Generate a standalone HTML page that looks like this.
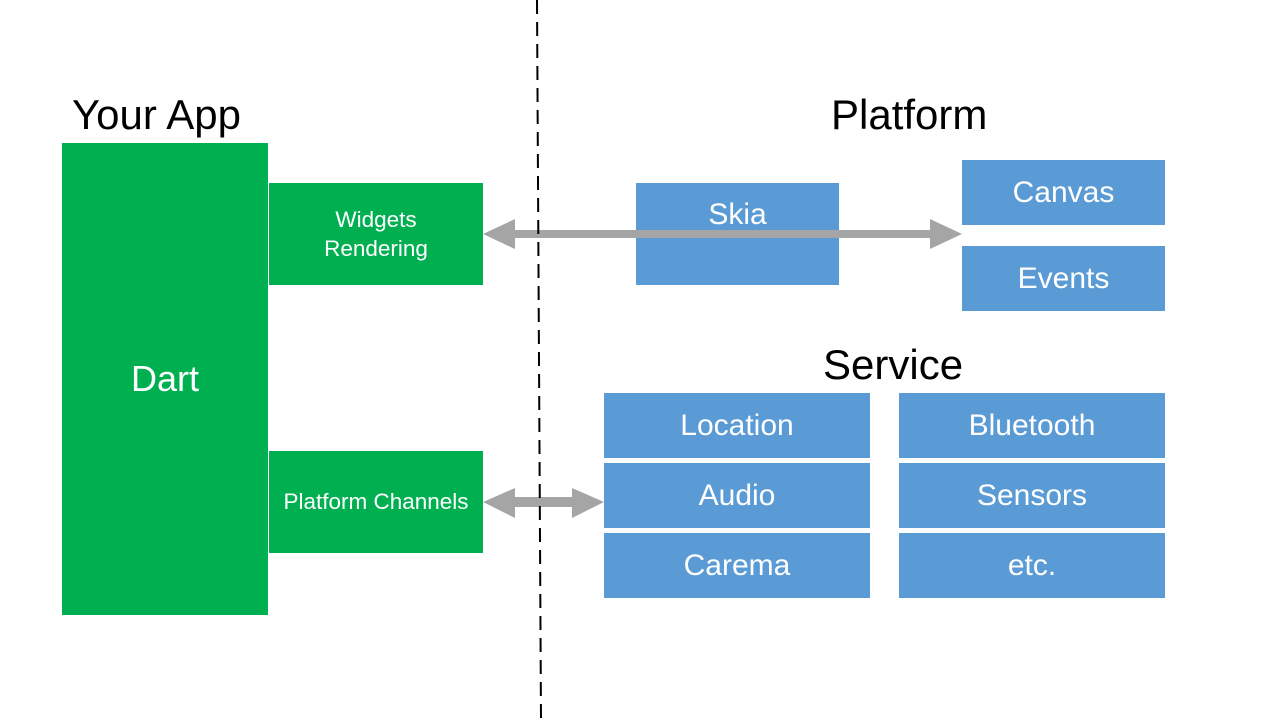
<!DOCTYPE html>
<html><head><meta charset="utf-8"><style>
html,body{margin:0;padding:0;background:#fff;}
#c{position:relative;width:1280px;height:720px;overflow:hidden;font-family:"Liberation Sans","Noto Sans CJK SC",sans-serif;}
.b{position:absolute;display:flex;align-items:center;justify-content:center;text-align:center;color:#fff;}
.g{background:#00b050;}
.u{background:#5b9bd5;font-size:30px;}
.t{position:absolute;color:#000;font-size:42px;line-height:1;white-space:nowrap;}
</style></head><body><div id="c">
<div class="t" style="left:72px;top:94px;">Your App</div>
<div class="t" style="left:831px;top:94px;">Platform</div>
<div class="t" style="left:823px;top:344px;">Service</div>

<div class="b g" style="left:62px;top:143px;width:206px;height:472px;font-size:36px;">Dart</div>
<div class="b g" style="left:269px;top:183px;width:214px;height:102px;font-size:22.5px;line-height:29px;">Widgets<br>Rendering</div>
<div class="b g" style="left:269px;top:451px;width:214px;height:102px;font-size:22.5px;">Platform Channels</div>

<div class="b u" style="left:636px;top:183px;width:203px;height:102px;align-items:flex-start;padding-top:15px;box-sizing:border-box;">Skia</div>
<div class="b u" style="left:962px;top:160px;width:203px;height:65px;">Canvas</div>
<div class="b u" style="left:962px;top:246px;width:203px;height:65px;">Events</div>

<div class="b u" style="left:604px;top:393px;width:266px;height:65px;">Location</div>
<div class="b u" style="left:604px;top:463px;width:266px;height:65px;">Audio</div>
<div class="b u" style="left:604px;top:533px;width:266px;height:65px;">Carema</div>
<div class="b u" style="left:899px;top:393px;width:266px;height:65px;">Bluetooth</div>
<div class="b u" style="left:899px;top:463px;width:266px;height:65px;">Sensors</div>
<div class="b u" style="left:899px;top:533px;width:266px;height:65px;">etc.</div>

<svg width="1280" height="720" style="position:absolute;left:0;top:0;">
<polygon points="483,234 515,219 515,230 930,230 930,219 962,234 930,249 930,238 515,238 515,249" fill="#a5a5a5"/>
<polygon points="483,502 515,488 515,497 572,497 572,488 604,502 572,518 572,507 515,507 515,518" fill="#a5a5a5"/>
<line x1="537" y1="0" x2="541" y2="720" stroke="#000" stroke-width="2" stroke-dasharray="14,8"/>
</svg>
</div></body></html>
